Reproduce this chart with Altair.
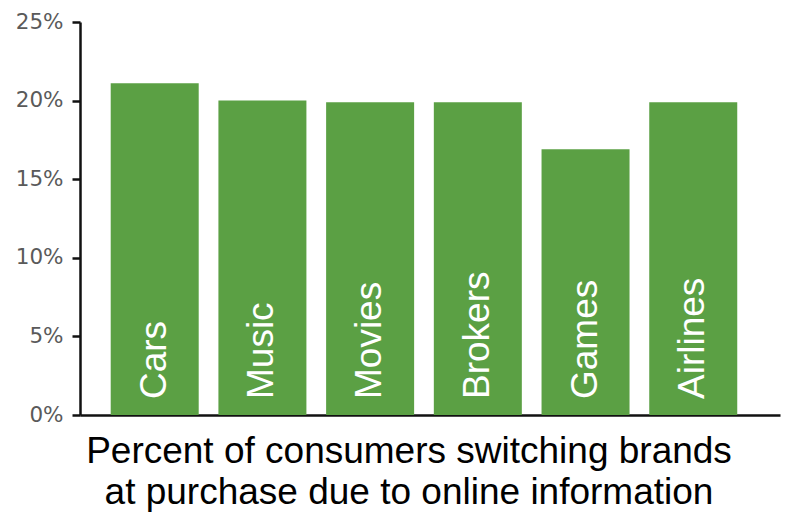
import altair as alt
import pandas as pd

categories = ["Cars", "Music", "Movies", "Brokers", "Games", "Airlines"]
shares = [0.211, 0.200, 0.199, 0.199, 0.169, 0.199]
y_ticks = [0, 0.05, 0.10, 0.15, 0.20, 0.25]
title_lines = ["Percent of consumers switching brands", "at purchase due to online information"]

df = pd.DataFrame({"category": categories, "share": shares})

FONT = "Liberation Sans"
GREEN = "#5ba044"

x_enc = alt.X(
    "category:N",
    sort=categories,
    scale=alt.Scale(paddingInner=0.183, paddingOuter=0.341, align=0.418),
    axis=alt.Axis(
        title=None, labels=False, ticks=False, grid=False,
        domainColor="#111111", domainWidth=2.5,
    ),
)
y_enc = alt.Y(
    "share:Q",
    scale=alt.Scale(domain=[0, 0.25], nice=False),
    axis=alt.Axis(
        title=None, values=y_ticks, format=".0%", grid=False,
        domainColor="#111111", domainWidth=2.5,
        tickColor="#111111", tickWidth=2.5, tickSize=8,
        labelColor="#5a5a5a", labelFontSize=21.5, labelFont="DejaVu Sans", labelPadding=9,
    ),
)

bars = alt.Chart(df).mark_bar(color=GREEN).encode(x=x_enc, y=y_enc)

labels = alt.Chart(df).mark_text(
    angle=270, align="left", baseline="middle", dx=16,
    fontSize=37, font=FONT, color="white",
).encode(
    x=alt.X("category:N", sort=categories),
    y=alt.datum(0),
    text="category:N",
)

chart = alt.layer(bars, labels).properties(
    width=700,
    height=393,
    autosize=alt.AutoSizeParams(type="none"),
    padding={"left": 80, "top": 22, "right": 14, "bottom": 98},
    title=alt.TitleParams(
        text=title_lines, orient="bottom", frame="group", anchor="middle",
        fontSize=37, font=FONT, fontWeight="normal", color="#000000",
        lineHeight=41, offset=8, dx=-21,
    ),
).configure(
    background="white",
    view=alt.ViewConfig(stroke="transparent", strokeWidth=0),
)

chart.save("out.html", embed_options={"renderer": "svg", "actions": False})
